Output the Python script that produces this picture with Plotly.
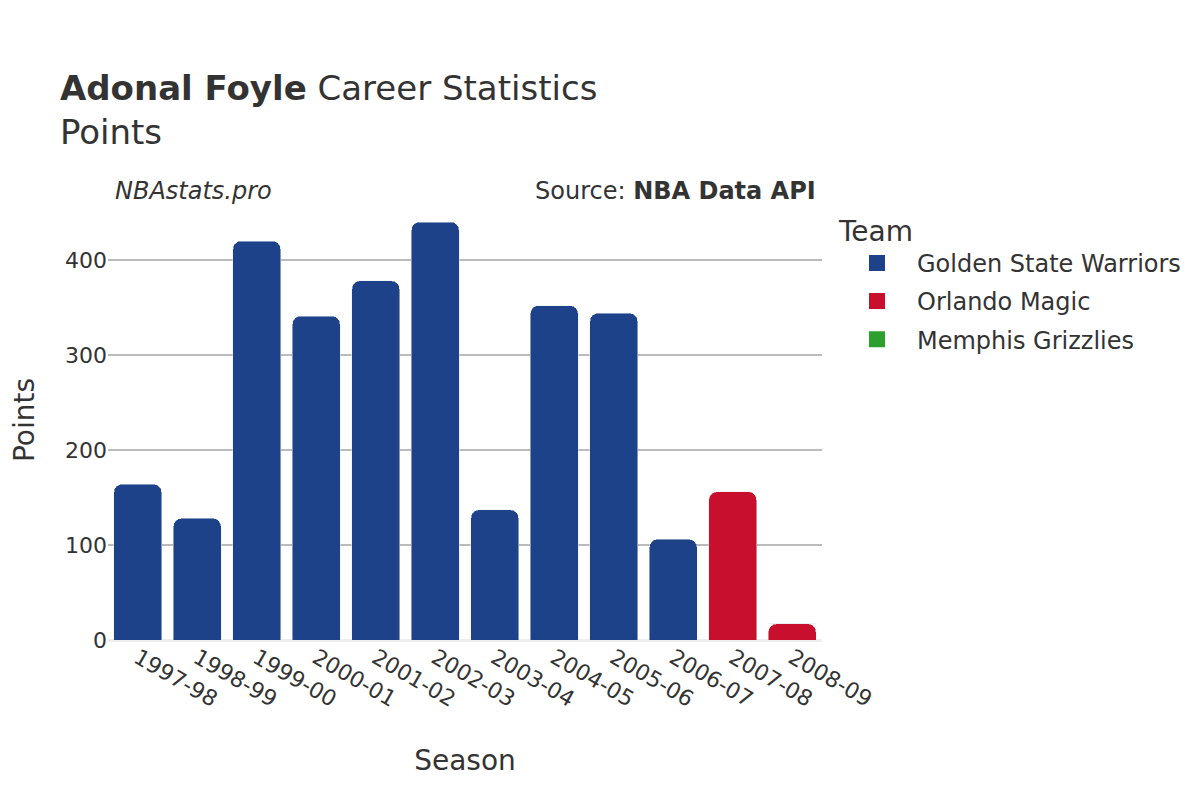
import plotly.graph_objects as go

seasons = ["1997-98", "1998-99", "1999-00", "2000-01", "2001-02", "2002-03",
           "2003-04", "2004-05", "2005-06", "2006-07", "2007-08", "2008-09"]

gsw_seasons = seasons[:10]
gsw_points = [164, 128, 420, 341, 378, 440, 137, 352, 344, 106]

orl_seasons = ["2007-08", "2008-09"]
orl_points = [156, 17]

mem_seasons = ["2008-09"]
mem_points = [0]

teams = ["Golden State Warriors", "Orlando Magic", "Memphis Grizzlies"]
team_colors = ["#1d428a", "#c8102e", "#2ca02c"]
team_x = [gsw_seasons, orl_seasons, mem_seasons]
team_y = [gsw_points, orl_points, mem_points]

fig = go.Figure()
for name, color, xs, ys in zip(teams, team_colors, team_x, team_y):
    fig.add_trace(go.Bar(x=xs, y=ys, name=name, marker_color=color,
                         legendgroup=name, showlegend=False))
    # bigger square for the legend key
    fig.add_trace(go.Scatter(x=[None], y=[None], mode="markers", name=name,
                             legendgroup=name,
                             marker=dict(symbol="square", size=22, color=color)))

# the page body adds 8px, so margins are trimmed to match
fig.update_layout(
    width=1200, height=800,
    barmode="stack",
    barcornerradius=8,
    bargap=0.2,
    font=dict(family="DejaVu Sans", color="#333333", size=22),
    plot_bgcolor="white", paper_bgcolor="white",
    title=dict(text="<b>Adonal Foyle</b> Career Statistics<br>Points",
               x=0.0433, xanchor="left", y=0.885, yanchor="top",
               font=dict(size=34)),
    margin=dict(l=100, r=386, t=192, b=168),
    legend=dict(title=dict(text="Team", font=dict(size=28)),
                x=1.021, xanchor="left", y=0.99, yanchor="top",
                font=dict(size=24), traceorder="grouped",
                tracegroupgap=4, itemwidth=70, itemsizing="trace"),
    xaxis=dict(title=dict(text="Season", font=dict(size=28), standoff=39),
               type="category", automargin=False,
               categoryorder="array", categoryarray=seasons,
               tickangle=30, tickfont=dict(size=22)),
    yaxis=dict(title=dict(text="Points", font=dict(size=28), standoff=30),
               automargin=False, rangemode="tozero",
               gridcolor="#bbbbbb", gridwidth=1.5,
               zeroline=True, zerolinecolor="#eeeeee", zerolinewidth=3,
               tickfont=dict(size=22), dtick=100),
    annotations=[
        dict(text="<i>NBAstats.pro</i>", xref="paper", yref="paper",
             x=0.007, y=1.0205, xanchor="left", yanchor="middle",
             showarrow=False, font=dict(size=24)),
        dict(text="Source: <b>NBA Data API</b>", xref="paper", yref="paper",
             x=0.995, y=1.0205, xanchor="right", yanchor="middle",
             showarrow=False, font=dict(size=24)),
    ],
)

fig.write_html("out.html")
